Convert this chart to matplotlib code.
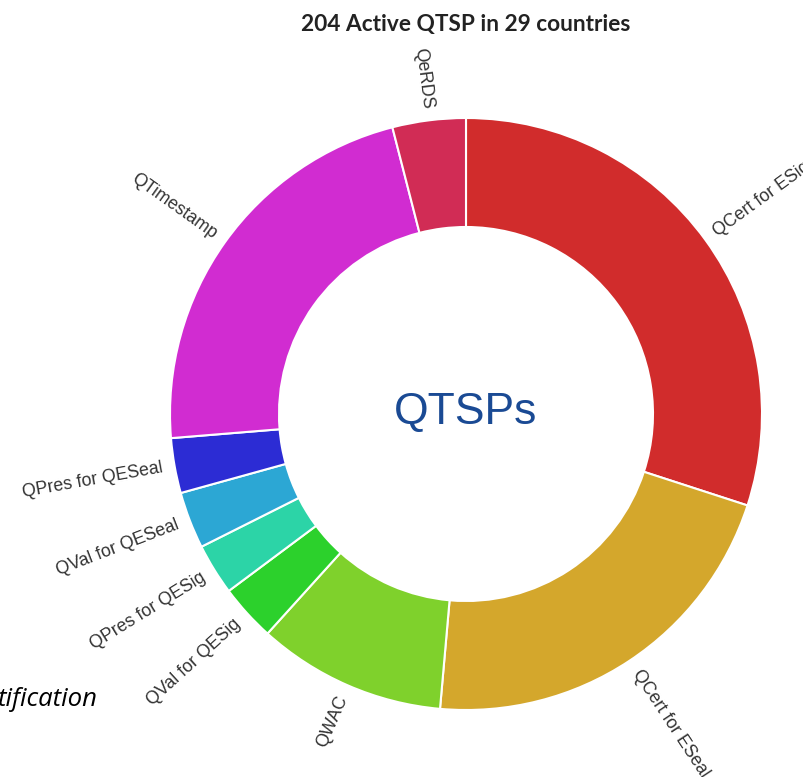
import numpy as np
import matplotlib.pyplot as plt

# anteile der dienste (geschaetzt aus dem bild, in prozent)
labels = ["QCert for ESig", "QCert for ESeal", "QWAC", "QVal for QESig",
          "QPres for QESig", "QVal for QESeal", "QPres for QESeal",
          "QTimestamp", "QeRDS"]
werte = [30.0, 21.4, 10.3, 3.1, 2.8, 3.1, 3.0, 22.3, 4.0]
farben = ["#d12c2c", "#d4a72c", "#7fd12c", "#2cd12c", "#2cd4a7",
          "#2ca7d4", "#2c2cd4", "#d12cd1", "#d12c55"]

titel = "204 Active QTSP in 29 countries"
mitte_text = "QTSPs"

W, H = 804, 777
fig = plt.figure(figsize=(W / 100, H / 100), dpi=100)
ax = fig.add_axes([0, 0, 1, 1])

cx, cy = 466, H - 414
R = 296
r_in = 187

wedges, _ = ax.pie(werte, colors=farben, startangle=90, counterclock=False,
                   center=(cx, cy), radius=R, frame=True,
                   wedgeprops=dict(width=R - r_in, edgecolor="white", linewidth=1.5))
ax.set_xlim(0, W)
ax.set_ylim(0, H)
ax.set_aspect("equal")
ax.axis("off")

# beschriftung radial aussen
for w, lab in zip(wedges, labels):
    th = (w.theta1 + w.theta2) / 2
    rad = np.deg2rad(th)
    r_lab = R + 12
    x = cx + r_lab * np.cos(rad)
    y = cy + r_lab * np.sin(rad)
    if np.cos(rad) >= 0:
        rot, ha = th, "left"
    else:
        rot, ha = th - 180, "right"
    ax.text(x, y, lab, rotation=rot, rotation_mode="anchor", ha=ha, va="center",
            fontsize=12.8, color="#333333", family="Liberation Sans")

ax.text(cx, cy + 2, mitte_text, ha="center", va="center", fontsize=32,
        color="#1a4a94", family="Liberation Sans")

fig.text(466 / W, 1 - 24 / H, titel, ha="center", va="center", fontsize=16.3,
         fontweight="bold", color="#222222", family="Lato")

fig.text(-0.003, 1 - 700 / H, "tification", ha="left", va="center", fontsize=18.5,
         style="italic", color="black", family="Open Sans")

fig.savefig("out.png", dpi=100)
